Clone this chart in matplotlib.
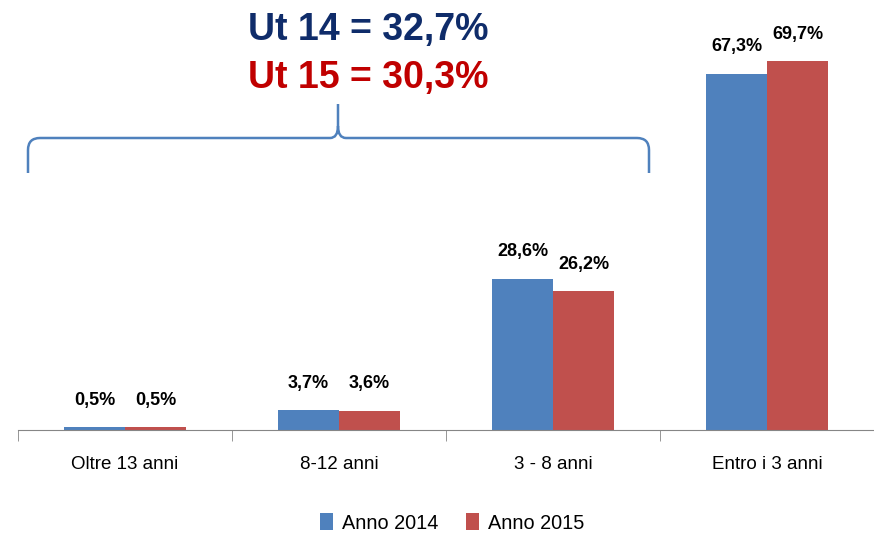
import numpy as np
import matplotlib.pyplot as plt
from matplotlib.path import Path
from matplotlib.patches import PathPatch

categories = ['Oltre 13 anni', '8-12 anni', '3 - 8 anni', 'Entro i 3 anni']
anno_2014 = [0.5, 3.7, 28.6, 67.3]
anno_2015 = [0.5, 3.6, 26.2, 69.7]
labels_2014 = ['0,5%', '3,7%', '28,6%', '67,3%']
labels_2015 = ['0,5%', '3,6%', '26,2%', '69,7%']
series_names = ['Anno 2014', 'Anno 2015']

BLUE = '#4f81bd'
RED = '#c0504d'

plt.rcParams['font.family'] = ['Liberation Sans', 'DejaVu Sans']

W, H = 874, 535
fig = plt.figure(figsize=(W / 100, H / 100), dpi=100)
ax = fig.add_axes([18 / W, 1 - 430 / H, 1 - 18 / W, 430 / H])

x = np.arange(len(categories))
bw = 0.285
b1 = ax.bar(x - bw / 2, anno_2014, bw, color=BLUE, label=series_names[0])
b2 = ax.bar(x + bw / 2, anno_2015, bw, color=RED, label=series_names[1])

for rects, labs in ((b1, labels_2014), (b2, labels_2015)):
    for r, lab in zip(rects, labs):
        ax.text(r.get_x() + r.get_width() / 2, r.get_height() + 3.5, lab,
                ha='center', va='bottom', fontsize=13, fontweight='bold')

ax.set_xlim(-0.5, len(categories) - 0.5)
ax.set_ylim(0, 430 / 5.29)
for s in ('left', 'right', 'top'):
    ax.spines[s].set_visible(False)
ax.spines['bottom'].set_color('#868686')
ax.set_yticks([])
ax.set_xticks(x)
ax.set_xticklabels(categories, fontsize=13.5)
ax.tick_params(axis='x', which='major', length=0, pad=19)
ax.set_xticks(np.arange(-0.5, len(categories)), minor=True)
ax.tick_params(axis='x', which='minor', length=8, color='#868686')

fig.legend(handles=[b1, b2], loc='center', bbox_to_anchor=(452 / W, 1 - 523 / H),
           ncol=2, frameon=False, fontsize=14.3, handlelength=0.65,
           handleheight=0.9, handletextpad=0.45, columnspacing=1.4)

# curly brace over the first three groups
pts = [(28, 173), (28, 150), (28, 138), (40, 138), (330, 138), (338, 138),
       (338, 126), (338, 104), (338, 126), (338, 138), (346, 138), (637, 138),
       (649, 138), (649, 150), (649, 173)]
codes = [Path.MOVETO, Path.LINETO, Path.CURVE3, Path.CURVE3, Path.LINETO,
         Path.CURVE3, Path.CURVE3, Path.LINETO, Path.MOVETO, Path.CURVE3,
         Path.CURVE3, Path.LINETO, Path.CURVE3, Path.CURVE3, Path.LINETO]
verts = [(px / W, 1 - py / H) for px, py in pts]
fig.add_artist(PathPatch(Path(verts, codes), transform=fig.transFigure,
                         fill=False, edgecolor=BLUE, lw=1.8))

fig.text(368 / W, 1 - 30 / H, 'Ut 14 = 32,7%', ha='center', va='center',
         fontsize=27, fontweight='bold', color='#0f2c6a')
fig.text(368 / W, 1 - 78 / H, 'Ut 15 = 30,3%', ha='center', va='center',
         fontsize=27, fontweight='bold', color='#c00000')

fig.savefig('out.png', dpi=100)
